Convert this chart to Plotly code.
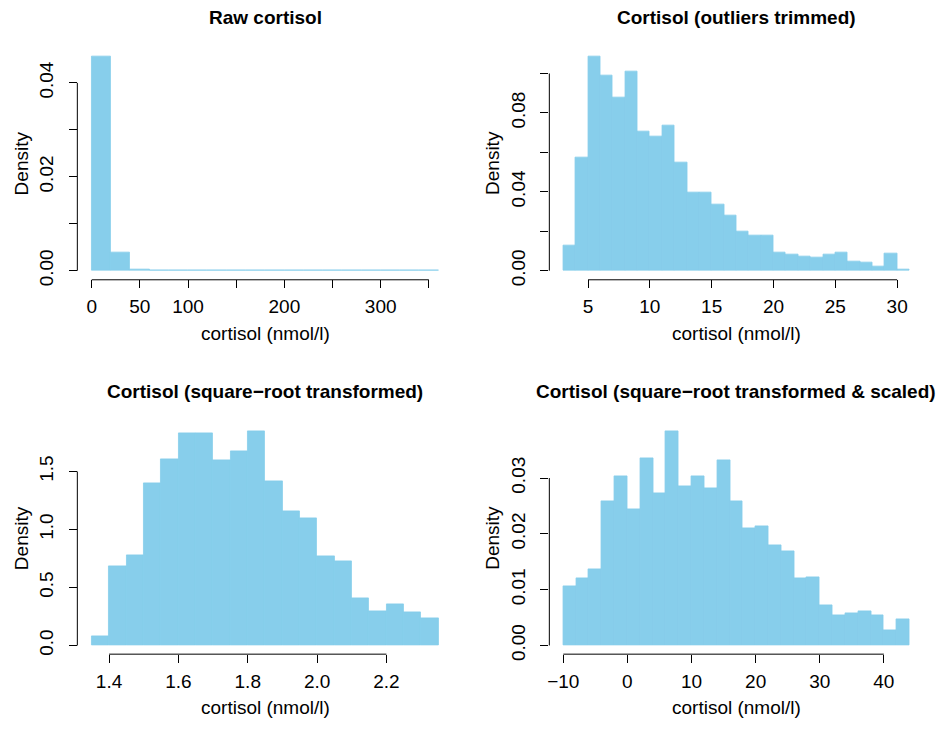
import plotly.graph_objects as go

W, H = 948, 729
FONT = "Liberation Sans, Arial, Helvetica, sans-serif"
BAR = "#87CEEB"

# ---------------- data ----------------
titles = ["Raw cortisol",
          "Cortisol (outliers trimmed)",
          "Cortisol (square\u2212root transformed)",
          "Cortisol (square\u2212root transformed & scaled)"]
xlabel = "cortisol (nmol/l)"
ylabel = "Density"

raw_start, raw_width = 0, 20
raw_density = [0.0457, 0.00386, 0.00030, 0.00004, 0.00002, 0.00002, 0.00002, 0.00002, 0.00002,
               0.00002, 0.00002, 0.00002, 0.00002, 0.00002, 0.00002, 0.00002, 0.00002, 0.00002]

trim_start, trim_width = 3, 1
trim_density = [0.0127, 0.0576, 0.1088, 0.0992, 0.0880, 0.1011, 0.0705, 0.0680, 0.0735, 0.0549,
                0.0398, 0.0398, 0.0333, 0.0278, 0.0199, 0.0177, 0.0177, 0.0092, 0.0082, 0.0072,
                0.0067, 0.0082, 0.0092, 0.0047, 0.0042, 0.0022, 0.0087, 0.0007]

sqrt_start, sqrt_width = 1.35, 0.05
sqrt_density = [0.083, 0.680, 0.774, 1.398, 1.605, 1.833, 1.825, 1.594, 1.671, 1.850,
                1.415, 1.159, 1.099, 0.766, 0.723, 0.407, 0.296, 0.356, 0.288, 0.236]

scaled_start, scaled_width = -10, 2
scaled_density = [0.01057, 0.01199, 0.01364, 0.02581, 0.03024, 0.02439, 0.03361, 0.02723, 0.03845,
                  0.02847, 0.03024, 0.02812, 0.03325, 0.02581, 0.02103, 0.02138, 0.01802, 0.01695,
                  0.01205, 0.01217, 0.00721, 0.00549, 0.00579, 0.00614, 0.00549, 0.00278, 0.00473]

raw_xticks = [0, 50, 100, 150, 200, 250, 300, 350]
raw_xlabels = ["0", "50", "100", "", "200", "", "300", ""]
raw_yticks = [0, 0.01, 0.02, 0.03, 0.04]
raw_ylabels = ["0.00", "", "0.02", "", "0.04"]

trim_xticks = [5, 10, 15, 20, 25, 30]
trim_xlabels = ["5", "10", "15", "20", "25", "30"]
trim_yticks = [0, 0.02, 0.04, 0.06, 0.08, 0.10]
trim_ylabels = ["0.00", "", "0.04", "", "0.08", ""]

sqrt_xticks = [1.4, 1.6, 1.8, 2.0, 2.2]
sqrt_xlabels = ["1.4", "1.6", "1.8", "2.0", "2.2"]
sqrt_yticks = [0, 0.5, 1.0, 1.5]
sqrt_ylabels = ["0.0", "0.5", "1.0", "1.5"]

scaled_xticks = [-10, 0, 10, 20, 30, 40]
scaled_xlabels = ["\u221210", "0", "10", "20", "30", "40"]
scaled_yticks = [0, 0.01, 0.02, 0.03]
scaled_ylabels = ["0.00", "0.01", "0.02", "0.03"]

panels = [
    (raw_start, raw_width, raw_density, raw_xticks, raw_xlabels, raw_yticks, raw_ylabels),
    (trim_start, trim_width, trim_density, trim_xticks, trim_xlabels, trim_yticks, trim_ylabels),
    (sqrt_start, sqrt_width, sqrt_density, sqrt_xticks, sqrt_xlabels, sqrt_yticks, sqrt_ylabels),
    (scaled_start, scaled_width, scaled_density, scaled_xticks, scaled_xlabels, scaled_yticks, scaled_ylabels),
]

# plot-region pixel boxes (left, right, top, bottom)
boxes = [(76.0, 451.3, 48.0, 282.0), (548.6, 923.3, 48.0, 282.0),
         (76.0, 451.3, 426.4, 660.4), (548.6, 923.3, 426.4, 660.4)]
title_y = [18, 18, 395, 395]
xtitle_y = [337, 337, 714, 714]

fig = go.Figure()
annotations = []
shapes = []
for i, (start, width, dens, xt, xl, yt, yl) in enumerate(panels):
    n = i + 1
    xa = "x" if n == 1 else f"x{n}"
    ya = "y" if n == 1 else f"y{n}"
    edges = [start + k * width for k in range(len(dens) + 1)]
    centers = [(edges[k] + edges[k + 1]) / 2 for k in range(len(dens))]
    fig.add_trace(go.Bar(x=centers, y=dens, width=[width] * len(dens),
                         marker=dict(color=BAR, line=dict(color=BAR, width=0.8)),
                         xaxis=xa, yaxis=ya, showlegend=False, hoverinfo="skip"))
    x0, x1 = edges[0], edges[-1]
    xpad = 0.04 * (x1 - x0)
    ymax = max(dens)
    ypad = 0.04 * ymax
    xr = [x0 - xpad, x1 + xpad]
    yr = [-ypad, ymax + ypad]
    L, R, T, B = boxes[i]
    xdom = [L / W, R / W]
    ydom = [1 - B / H, 1 - T / H]
    axis_common = dict(showgrid=False, zeroline=False, showline=False, ticks="outside",
                       ticklen=8, tickwidth=1, tickcolor="black",
                       tickfont=dict(family=FONT, size=19, color="black"))
    fig.update_layout(**{
        ("xaxis" if n == 1 else f"xaxis{n}"): dict(domain=xdom, range=xr,
                                                    anchor=ya, tickmode="array", tickvals=xt, ticktext=xl,
                                                    ticklabelstandoff=2, **axis_common),
        ("yaxis" if n == 1 else f"yaxis{n}"): dict(domain=ydom, range=yr,
                                                    anchor=xa, tickmode="array", tickvals=yt, ticktext=yl,
                                                    tickangle=-90, ticklabelstandoff=8, **axis_common),
    })
    # R-style axis lines spanning first to last tick (paper coordinates, pixel-aligned)
    xa0 = xdom[0] + (xt[0] - xr[0]) / (xr[1] - xr[0]) * (xdom[1] - xdom[0])
    xa1 = xdom[0] + (xt[-1] - xr[0]) / (xr[1] - xr[0]) * (xdom[1] - xdom[0])
    ya0 = ydom[0] + (yt[0] - yr[0]) / (yr[1] - yr[0]) * (ydom[1] - ydom[0])
    ya1 = ydom[0] + (yt[-1] - yr[0]) / (yr[1] - yr[0]) * (ydom[1] - ydom[0])
    hy = 1 - (round(B) + 0.5) / H
    vx = (round(L) - 0.5) / W
    shapes.append(dict(type="line", xref="paper", yref="paper", x0=xa0, x1=xa1,
                       y0=hy, y1=hy, layer="above", line=dict(color="black", width=1)))
    shapes.append(dict(type="line", xref="paper", yref="paper", x0=vx, x1=vx,
                       y0=ya0, y1=ya1, layer="above", line=dict(color="black", width=1)))
    cx = (L + R) / 2 / W
    annotations.append(dict(text=f"<b>{titles[i]}</b>", x=cx, y=1 - title_y[i] / H, xref="paper",
                            yref="paper", xanchor="center", yanchor="middle", showarrow=False,
                            font=dict(family=FONT, size=19, color="black")))
    annotations.append(dict(text=xlabel, x=cx, y=1 - xtitle_y[i] / H, xref="paper", yref="paper",
                            xanchor="center", yanchor="middle", showarrow=False,
                            font=dict(family=FONT, size=19, color="black")))
    annotations.append(dict(text=ylabel, x=(L - 57) / W, y=1 - (T + B) / 2 / H, xref="paper",
                            yref="paper", xanchor="center", yanchor="middle", textangle=-90,
                            showarrow=False, font=dict(family=FONT, size=19, color="black")))

fig.update_layout(width=W, height=H, margin=dict(l=0, r=0, t=0, b=0),
                  paper_bgcolor="white", plot_bgcolor="white", bargap=0,
                  annotations=annotations, shapes=shapes, font=dict(family=FONT))
fig.write_html("out.html")
